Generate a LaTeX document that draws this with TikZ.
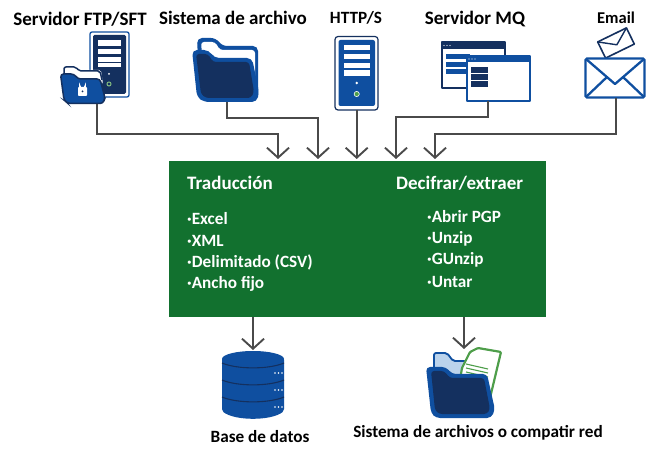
\documentclass[tikz,border=0pt]{standalone}
\usepackage{fontspec}
\setmainfont{Carlito}
\usetikzlibrary{arrows.meta}
\definecolor{navy}{HTML}{14305F}
\definecolor{iblue}{HTML}{0F4FA0}
\definecolor{boxgreen}{HTML}{12712F}
\definecolor{docgreen}{HTML}{4E9E4A}
\definecolor{wire}{HTML}{4A4A4A}
\definecolor{lightb}{HTML}{BBD3EC}
\tikzset{
  x=1pt,y=-1pt,
  wirearrow/.style={draw=wire,line width=1.9pt,-{Straight Barb[length=10pt,width=22pt,line width=1.9pt]}},
  title/.style={font=\bfseries\fontsize{19}{21}\selectfont,text=black,inner sep=0pt,anchor=center},
  small title/.style={title,font=\bfseries\fontsize{17.2}{19}\selectfont},
  boxhead/.style={font=\bfseries\fontsize{19}{21}\selectfont,text=white,inner sep=0pt,anchor=west},
  boxitem/.style={font=\bfseries\fontsize{17.2}{19}\selectfont,text=white,inner sep=0pt,anchor=west},
  panel/.style={fill=boxgreen,draw=none,inner sep=0pt,minimum width=377pt,minimum height=156pt},
  slot/.style={fill=white,draw=none},
  winline/.style={line width=2pt,line join=round},
}
\begin{document}
\begin{tikzpicture}
\useasboundingbox (0,0) rectangle (646,449);
\fill[white] (0,0) rectangle (646,449);

% ---- green panel
\node[panel] (panel) at (357.5,239) {};

% ---- titles
\node[title] (t1) at (80,19) {Servidor FTP/SFT};
\node[title] (t2) at (233,18) {Sistema de archivo};
\node[small title] (t3) at (356,18) {HTTP/S};
\node[title] (t4) at (475,19) {Servidor MQ};
\node[title,font=\bfseries\fontsize{16.5}{18}\selectfont] (t5) at (616,18) {Email};
\node[small title] (t6) at (260,437) {Base de datos};
\node[small title] (t7) at (478,433) {Sistema de archivos o compatir red};

% ---- panel text
\node[boxhead] (h1) at (187,183) {Traducción};
\node[boxhead] (h2) at (396,183) {Decifrar/extraer};
\node[boxitem] (a1) at (187,219) {·Excel};
\node[boxitem] (a2) at (187,241) {·XML};
\node[boxitem] (a3) at (187,262) {·Delimitado (CSV)};
\node[boxitem] (a4) at (187,284) {·Ancho fijo};
\node[boxitem] (b1) at (427,217) {·Abrir PGP};
\node[boxitem] (b2) at (427,239) {·Unzip};
\node[boxitem] (b3) at (427,260) {·GUnzip};
\node[boxitem] (b4) at (427,282) {·Untar};

% ---- FTP server + locked folder
\draw[iblue,line width=1.3pt,fill=white,rounded corners=2pt] (90,32) rectangle (129,97);
\fill[navy,rounded corners=1.5pt] (93,35) rectangle (126,94);
\fill[slot] (98,40) rectangle (121,46);
\fill[slot] (98,49) rectangle (121,54);
\fill[slot] (98,57) rectangle (121,62);
\fill[slot] (98,63) rectangle (121,67);
\fill[white] (109,74) circle (1pt);
\draw[docgreen!70!white,line width=1pt] (109,84) circle (2pt);
\fill[white,rounded corners=2pt] (63,66) -- (76,66) -- (80,70) -- (101,70) -- (103,84) -- (65,84) -- cycle;
\draw[navy,line width=1.5pt,rounded corners=2pt] (64,78) -- (64,67) -- (76,67) -- (79,71) -- (100,71) -- (102,80);
\fill[iblue,rounded corners=3pt,draw=navy,line width=1.5pt] (60.5,74) -- (74,74) -- (78,79) -- (100,79) -- (105,98) -- (103,103.5) -- (68,103.5) -- (64,100) -- cycle;
\fill[white,rounded corners=.8pt] (78,87) rectangle (87,96);
\draw[white,line width=1.2pt] (79.8,88) -- (79.8,85.5) arc[start angle=180,end angle=0,radius=2.7] -- (85.2,88);
\fill[navy] (82.5,91.5) circle (1pt);

% ---- folder 2
\fill[iblue,rounded corners=5pt] (197,38) -- (216,38) -- (222,46) -- (258,46) -- (258,100) -- (200,100) -- cycle;
\fill[white,rounded corners=3pt] (201,42) -- (215,42) -- (220,50) -- (255,50) -- (255,90) -- (205,90) -- cycle;
\fill[iblue,rounded corners=5pt] (192,50) -- (209,50) -- (214,58) -- (252,58) -- (259,92) -- (257,102) -- (204,102) -- (197,97) -- cycle;
\fill[navy,rounded corners=3pt] (196,54) -- (208,54) -- (213,62) -- (249,62) -- (254,92) -- (251,98) -- (206,98) -- (201,94) -- cycle;

% ---- HTTP server
\draw[navy,line width=1.2pt,fill=white,rounded corners=3pt] (335,36.5) rectangle (378,110);
\fill[iblue,rounded corners=2pt] (338.5,40) rectangle (375,106);
\fill[slot] (344,45) rectangle (370,50);
\fill[slot] (344,54) rectangle (370,59);
\fill[slot] (344,63) rectangle (370,68);
\fill[slot] (344,70) rectangle (370,76);
\fill[white] (356.7,83) circle (1.3pt);
\draw[white,line width=.6pt,fill=docgreen] (356.7,94) circle (2.6pt);

% ---- MQ windows
\draw[navy,winline,fill=white] (441.5,42.5) rectangle (504.5,88.5);
\fill[navy] (441,42) rectangle (505,49);
\foreach \yy in {54,62,69} \fill[iblue] (446,\yy) rectangle (470,\yy+5);
\foreach \xx in {444,447,450} \fill[white] (\xx,45.5) circle (.7pt);
\draw[iblue,winline,fill=white] (466.5,56.5) rectangle (529.5,101);
\fill[iblue] (466,56) rectangle (530,62);
\foreach \xx in {469,472,475} \fill[white] (\xx,59) circle (.7pt);
\foreach \yy in {67,74,81} \fill[navy] (471,\yy) rectangle (488,\yy+6);

% ---- Email
\begin{scope}[shift={(616,43)},rotate=26]
  \draw[navy,line width=1.6pt,fill=white,line join=round] (-16,-9) rectangle (16,9);
  \draw[navy,line width=1.4pt,line join=round] (-16,-9) -- (0,2) -- (16,-9);
\end{scope}
\draw[iblue,line width=2.3pt,fill=white,rounded corners=1.5pt] (585.5,58.5) rectangle (644.5,97.5);
\draw[iblue,line width=2.3pt,line join=round] (586,59) -- (615,84) -- (644,59);
\draw[iblue,line width=2.3pt] (586,97) -- (607,77);
\draw[iblue,line width=2.3pt] (644,97) -- (623,77);

% ---- Database
\fill[iblue,rounded corners=2pt] (222,358) -- (222,411) .. controls (235,421) and (271,421) .. (284,411) -- (284,358) -- cycle;
\foreach \yy in {363,380,397}
  \draw[navy,line width=1.1pt] (222,\yy) .. controls (237,\yy+6.5) and (269,\yy+6.5) .. (284,\yy);
\fill[iblue] (253,359) ellipse (31 and 8);
\foreach \yy in {373,390,407}\foreach \xx in {275,278.5,282} \fill[white] (\xx,\yy) circle (.8pt);

% ---- Folder + document
\fill[lightb,rounded corners=2pt,draw=iblue,line width=1.8pt] (434,353) -- (447,353) -- (453,361) -- (466,361) -- (466,376) -- (434,376) -- cycle;
\draw[docgreen,line width=2.2pt,fill=white,line join=round,rounded corners=1pt] (462,368) -- (470,352) -- (478,348) -- (501,352) -- (490,398) -- (458,392) -- cycle;
\foreach \yy in {0,4,8,12} \draw[docgreen,line width=1.1pt] (466,364+\yy) -- (488,369+\yy);
\fill[iblue,rounded corners=4pt] (426,367) -- (446,367) -- (452,374) -- (487,374) -- (495,410) -- (491,418) -- (436,418) -- (431,413) -- cycle;
\fill[navy,rounded corners=3pt] (431,371) -- (444,371) -- (450,378) -- (484,378) -- (490,409) -- (487,414) -- (439,414) -- (435,410) -- cycle;

% ---- connector ends
\coordinate (ftp) at (97,104);
\coordinate (arch) at (227,102);
\coordinate (http) at (356.7,110);
\coordinate (mq) at (488,101);
\coordinate (mail) at (616,98);
\coordinate (in1) at (278,159);
\coordinate (in2) at (318,159);
\coordinate (in3) at (356.7,159);
\coordinate (in4) at (396,159);
\coordinate (in5) at (435,159);
\coordinate (out1) at (253,317);
\coordinate (out2) at (464,317);
\coordinate (db) at (253,350);
\coordinate (files) at (464,349);

\draw[wirearrow] (ftp) |- (278,134) -- (in1);
\draw[wirearrow] (arch) |- (318,118) -- (in2);
\draw[wirearrow] (http) -- (in3);
\draw[wirearrow] (mq) |- (396,117) -- (in4);
\draw[wirearrow] (mail) |- (435,134) -- (in5);
\draw[wirearrow] (out1) -- (db);
\draw[wirearrow] (out2) -- (files);
\end{tikzpicture}
\end{document}
